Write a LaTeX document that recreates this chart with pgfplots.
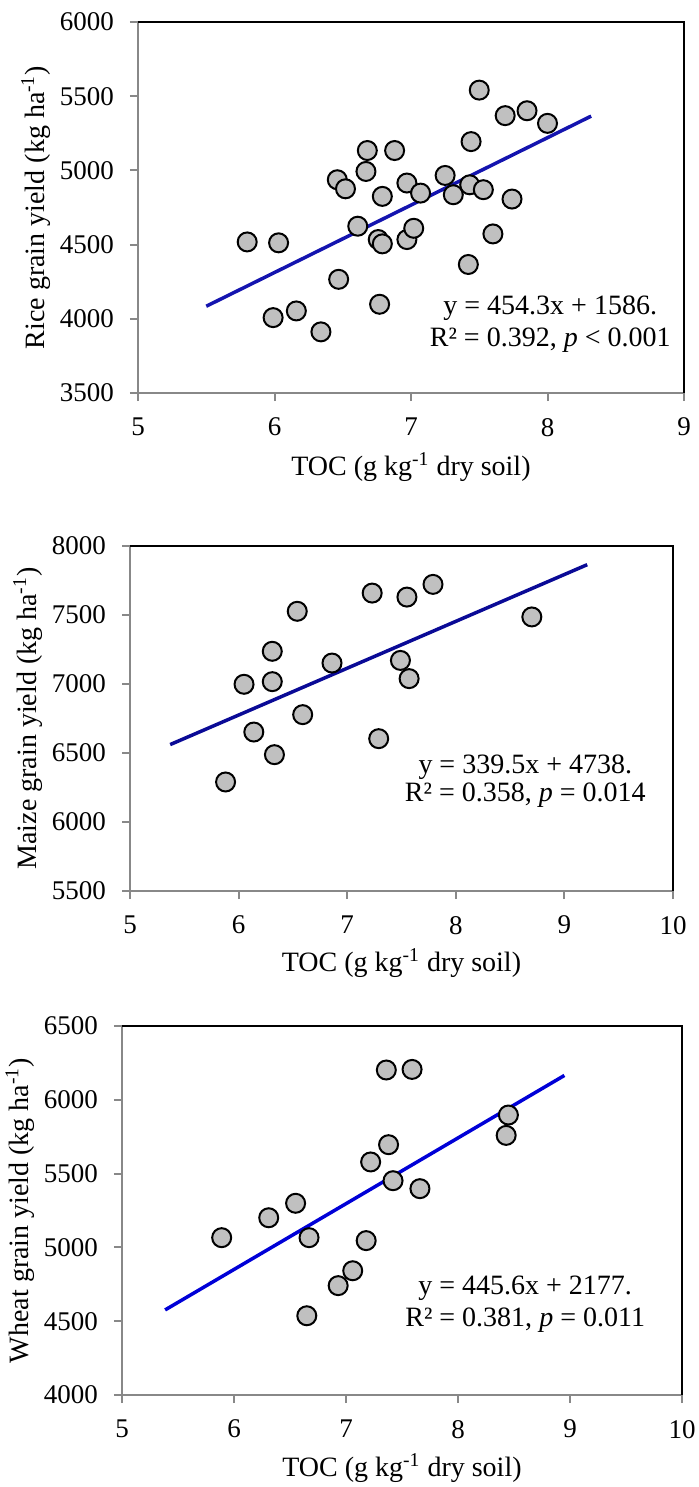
\documentclass[border=0pt]{standalone}
\usepackage{fontspec}
\setmainfont{Liberation Serif}
\usepackage{pgfplots}
\pgfplotsset{compat=1.18}

\definecolor{axgray}{RGB}{136,136,136}
\definecolor{mfill}{RGB}{192,192,192}
\definecolor{lineA}{RGB}{20,20,175}
\definecolor{lineB}{RGB}{10,10,150}
\definecolor{lineC}{RGB}{0,0,215}

\pgfplotsset{
  panel/.style={
    scale only axis,
    anchor=south west,
    axis lines*=left,
    axis line style={axgray, line width=1pt},
    tick style={axgray, line width=1pt},
    tick align=outside,
    major tick length=4pt,
    minor tick num=0,
    /pgf/number format/assume math mode=true,
    /pgf/number format/1000 sep={},
    tick label style={font=\fontsize{13.5}{16}\selectfont},
    yticklabel style={xshift=-4.5pt},
    xticklabel style={yshift=-5pt},
    label style={font=\fontsize{14}{17}\selectfont},
    clip=false,
  },
  dots/.style={only marks, mark=*, mark size=4.75pt,
    mark options={fill=mfill, draw=black, line width=1pt}},
}

\begin{document}
\begin{tikzpicture}
\useasboundingbox (0pt,0pt) rectangle (349pt,-743.5pt);

% ---------------- Rice ----------------
\begin{axis}[panel,
  at={(69pt,-196.5pt)}, width=273pt, height=185.5pt,
  xmin=5, xmax=9, ymin=3500, ymax=6000,
  xtick={5,6,7,8,9}, ytick={3500,4000,4500,5000,5500,6000},
  xlabel={TOC (g kg\textsuperscript{-1} dry soil)},
  ylabel={Rice grain yield (kg ha\textsuperscript{-1})},
  xlabel style={at={(axis description cs:0.5,-0.1995)}, anchor=center},
  ylabel style={at={(axis description cs:-0.187,0.5)}, anchor=center},
]
\addplot[dots] coordinates {
(5.80,4518) (6.03,4512) (5.99,4008) (6.16,4053) (6.34,3912)
(6.46,4937) (6.52,4876) (6.47,4266) (6.61,4624) (6.68,5134)
(6.67,4993) (6.76,4534) (6.79,4505) (6.79,4825) (6.77,4098)
(6.88,5134) (6.97,4915) (6.97,4534) (7.02,4610) (7.07,4847)
(7.25,4966) (7.31,4836) (7.42,4366) (7.44,5194) (7.43,4903)
(7.50,5541) (7.53,4870) (7.60,4572) (7.69,5369) (7.74,4807)
(7.85,5402) (8.00,5317)
};
\addplot[lineA, line width=1.75pt] coordinates {(5.50,4084.65) (8.32,5365.78)};
\draw[black, line width=0.75pt] (rel axis cs:0,1) -- (rel axis cs:1,1) -- (rel axis cs:1,0);
\node[font=\fontsize{14}{17}\selectfont] at (axis cs:8.02,4073) {y = 454.3x + 1586.};
\node[font=\fontsize{14}{17}\selectfont] at (axis cs:8.02,3857) {R² = 0.392, \textit{p} < 0.001};
\end{axis}

% ---------------- Maize ----------------
\begin{axis}[panel,
  at={(65pt,-445.5pt)}, width=271.5pt, height=172.5pt,
  xmin=5, xmax=10, ymin=5500, ymax=8000,
  xtick={5,6,7,8,9,10}, ytick={5500,6000,6500,7000,7500,8000},
  xlabel={TOC (g kg\textsuperscript{-1} dry soil)},
  ylabel={Maize grain yield (kg ha\textsuperscript{-1})},
  xlabel style={at={(axis description cs:0.5,-0.2087)}, anchor=center},
  ylabel style={at={(axis description cs:-0.188,0.5)}, anchor=center},
]
\addplot[dots] coordinates {
(5.88,6290) (6.05,6998) (6.14,6652) (6.31,7237) (6.31,7017)
(6.33,6488) (6.54,7527) (6.59,6778) (6.86,7152) (7.23,7659)
(7.29,6604) (7.49,7171) (7.55,7630) (7.57,7039) (7.79,7722)
(8.70,7486)
};
\addplot[lineB, line width=1.75pt] coordinates {(5.37,6561.1) (9.21,7864.8)};
\draw[black, line width=0.75pt] (rel axis cs:0,1) -- (rel axis cs:1,1) -- (rel axis cs:1,0);
\node[font=\fontsize{14}{17}\selectfont] at (axis cs:8.64,6399) {y = 339.5x + 4738.};
\node[font=\fontsize{14}{17}\selectfont] at (axis cs:8.64,6196) {R² = 0.358, \textit{p} = 0.014};
\end{axis}

% ---------------- Wheat ----------------
\begin{axis}[panel,
  at={(61pt,-697.5pt)}, width=280pt, height=184.5pt,
  xmin=5, xmax=10, ymin=4000, ymax=6500,
  xtick={5,6,7,8,9,10}, ytick={4000,4500,5000,5500,6000,6500},
  xlabel={TOC (g kg\textsuperscript{-1} dry soil)},
  ylabel={Wheat grain yield (kg ha\textsuperscript{-1})},
  xlabel style={at={(axis description cs:0.5,-0.198)}, anchor=center},
  ylabel style={at={(axis description cs:-0.182,0.5)}, anchor=center},
]
\addplot[dots] coordinates {
(5.89,5066) (6.31,5201) (6.55,5299) (6.67,5066) (6.65,4537)
(6.93,4741) (7.06,4842) (7.18,5046) (7.22,5579) (7.36,6202)
(7.38,5696) (7.42,5452) (7.59,6206) (7.66,5398) (8.43,5759)
(8.45,5897)
};
\addplot[lineC, line width=1.75pt] coordinates {(5.385,4576.6) (8.95,6165.1)};
\draw[black, line width=0.75pt] (rel axis cs:0,1) -- (rel axis cs:1,1) -- (rel axis cs:1,0);
\node[font=\fontsize{14}{17}\selectfont] at (axis cs:8.60,4725) {y = 445.6x + 2177.};
\node[font=\fontsize{14}{17}\selectfont] at (axis cs:8.60,4508) {R² = 0.381, \textit{p} = 0.011};
\end{axis}
\end{tikzpicture}
\end{document}
